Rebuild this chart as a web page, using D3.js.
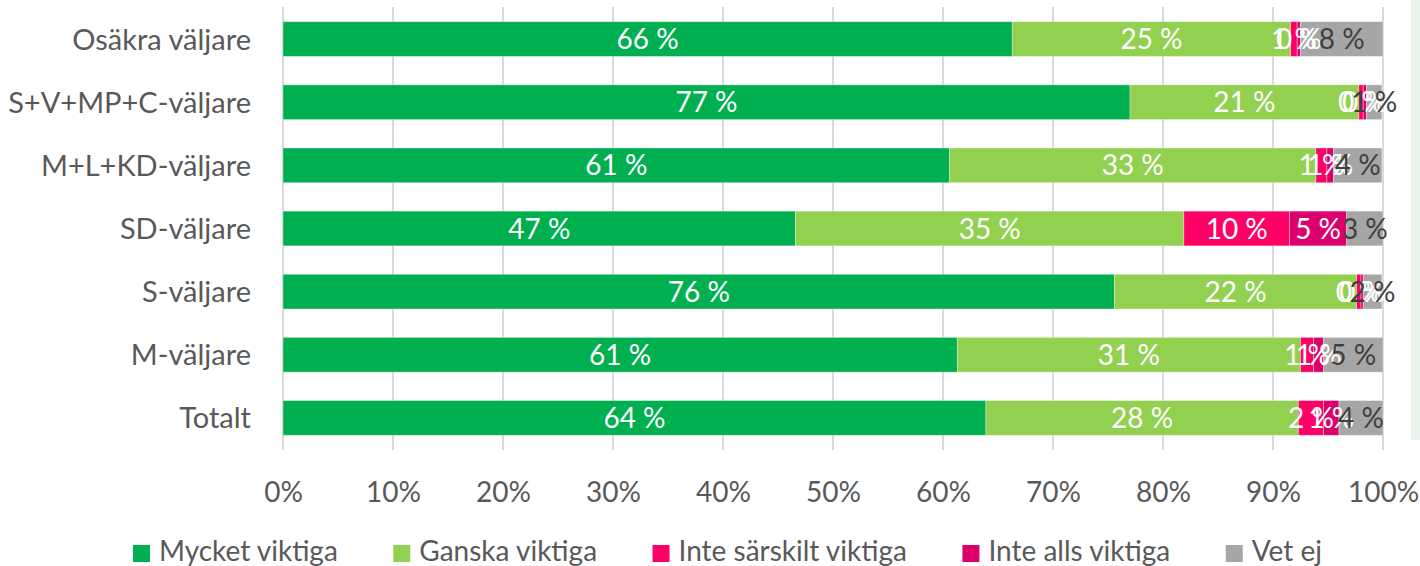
<!DOCTYPE html>
<html>
<head>
<meta charset="utf-8">
<script src="https://cdn.jsdelivr.net/npm/d3@7"></script>
<style>
  html, body { margin: 0; padding: 0; background: #fff; }
  svg { display: block; font-family: Lato, "Open Sans", sans-serif; }
</style>
</head>
<body>
<svg id="chart" width="1420" height="566"></svg>
<script>
var categories = ["Osäkra väljare", "S+V+MP+C-väljare", "M+L+KD-väljare", "SD-väljare", "S-väljare", "M-väljare", "Totalt"];
var seriesNames = ["Mycket viktiga", "Ganska viktiga", "Inte särskilt viktiga", "Inte alls viktiga", "Vet ej"];
var seriesColors = ["#00B050", "#92D050", "#FF0066", "#DC006C", "#A6A6A6"];
var labelColors = ["#ffffff", "#ffffff", "#ffffff", "#ffffff", "#404040"];

// percent per category, same order as categories
var mycket = [66.3, 77.0, 60.6, 46.6, 75.6, 61.3, 63.9];
var ganska = [25.3, 20.8, 33.3, 35.3, 22.0, 31.2, 28.4];
var inteSarskilt = [0.6, 0.4, 1.0, 9.6, 0.4, 1.2, 2.3];
var inteAlls = [0.3, 0.3, 0.6, 5.2, 0.2, 0.9, 1.4];
var vetEj = [7.5, 1.4, 4.4, 3.3, 1.7, 5.4, 4.0];

var tickValues = [0, 10, 20, 30, 40, 50, 60, 70, 80, 90, 100];

var svg = d3.select("#chart");
var FONT = 28;
var TEXT = "#595959";

// light panel edge on the far right
svg.append("rect")
    .attr("x", 1411).attr("y", 0)
    .attr("width", 9).attr("height", 440)
    .attr("fill", "#E9F4EC");

var rows = categories.map(function (c, i) {
    return { cat: c, vals: [mycket[i], ganska[i], inteSarskilt[i], inteAlls[i], vetEj[i]] };
});

var x = d3.scaleLinear().domain([0, 100]).range([283, 1383]);
var y = d3.scaleBand().domain(categories).range([7.5, 449.5])
    .paddingInner(0.45).paddingOuter(0.225);

// gridlines
svg.append("g").selectAll("line")
    .data(tickValues)
    .join("line")
    .attr("x1", function (d) { return x(d); })
    .attr("x2", function (d) { return x(d); })
    .attr("y1", 7).attr("y2", 450)
    .attr("stroke", "#D9D9D9")
    .attr("stroke-width", 2);

// x tick labels
var xAxis = d3.axisBottom(x).tickValues(tickValues)
    .tickFormat(function (d) { return d + "%"; })
    .tickSize(0).tickPadding(0);
var gx = svg.append("g").attr("transform", "translate(0,482)").call(xAxis);
gx.select(".domain").remove();
gx.selectAll("text")
    .attr("font-family", "Lato, sans-serif")
    .attr("font-size", FONT)
    .attr("fill", TEXT)
    .attr("dy", "0.7em");

// y category labels
var yAxis = d3.axisLeft(y).tickSize(0).tickPadding(0);
var gy = svg.append("g").attr("transform", "translate(251,0)").call(yAxis);
gy.select(".domain").remove();
gy.selectAll("text")
    .attr("font-family", "Lato, sans-serif")
    .attr("font-size", 29)
    .attr("fill", TEXT)
    .attr("dy", "0.36em");

// stacked segments
var segs = [];
rows.forEach(function (r) {
    var acc = 0;
    r.vals.forEach(function (v, k) {
        segs.push({ cat: r.cat, k: k, v: v, x0: acc, x1: acc + v });
        acc += v;
    });
});

svg.append("g").selectAll("rect")
    .data(segs)
    .join("rect")
    .attr("x", function (d) { return x(d.x0); })
    .attr("y", function (d) { return y(d.cat); })
    .attr("width", function (d) { return x(d.x1) - x(d.x0); })
    .attr("height", y.bandwidth())
    .attr("fill", function (d) { return seriesColors[d.k]; })
    .attr("stroke", "rgba(255,255,255,0.45)")
    .attr("stroke-width", 0.75);

svg.append("g").selectAll("text")
    .data(segs)
    .join("text")
    .attr("x", function (d) { return (x(d.x0) + x(d.x1)) / 2; })
    .attr("y", function (d) { return y(d.cat) + y.bandwidth() / 2; })
    .attr("dy", "0.36em")
    .attr("text-anchor", "middle")
    .attr("font-size", FONT)
    .attr("fill", function (d) { return labelColors[d.k]; })
    .text(function (d) { return Math.round(d.v) + " %"; });

// legend
var legend = svg.append("g");
var items = legend.selectAll("g")
    .data(seriesNames)
    .join("g");
items.append("rect")
    .attr("width", 17).attr("height", 17)
    .attr("y", 545)
    .attr("fill", function (d, i) { return seriesColors[i]; });
items.append("text")
    .attr("x", 26).attr("y", 561)
    .attr("font-size", FONT)
    .attr("fill", TEXT)
    .text(function (d) { return d; });

var widths = [];
items.each(function () {
    widths.push(26 + d3.select(this).select("text").node().getComputedTextLength());
});
var startX = 133, endX = 1322;
var total = d3.sum(widths);
var gap = (endX - startX - total) / (widths.length - 1);
var pos = startX;
items.attr("transform", function (d, i) {
    var t = "translate(" + pos + ",0)";
    pos += widths[i] + gap;
    return t;
});
</script>
</body>
</html>
